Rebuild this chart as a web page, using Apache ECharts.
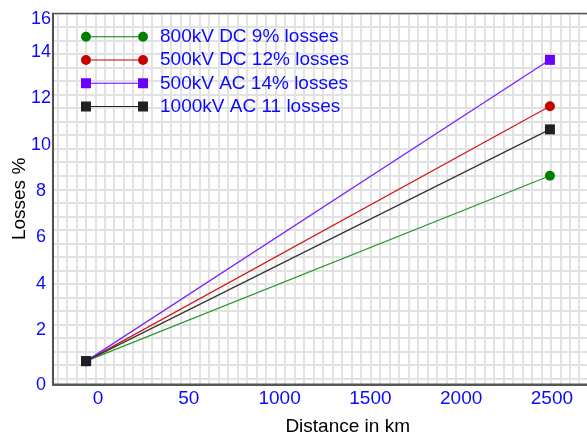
<!DOCTYPE html>
<html>
<head>
<meta charset="utf-8">
<script src="https://cdn.jsdelivr.net/npm/echarts@6/dist/echarts.min.js"></script>
<style>
  html, body { margin: 0; padding: 0; background: #ffffff; }
  #chart { width: 587px; height: 433px; }
</style>
</head>
<body>
<div id="chart"></div>
<script>
// Transmission losses versus distance for four line technologies
const distanceKm = [0, 2500];
const dc800Losses = [1, 9];
const dc500Losses = [1, 12];
const ac500Losses = [1, 14];
const ac1000Losses = [1, 11];

const seriesNames = [
  '800kV DC 9% losses',
  '500kV DC 12% losses',
  '500kV AC 14% losses',
  '1000kV AC 11 losses'
];

const xTickValues = [0, 500, 1000, 1500, 2000, 2500];
const xTickLabels = ['0', '50', '1000', '1500', '2000', '2500'];

const BLUE = '#0a0aff';
const GRID_LINE = '#e2e2e2';

function pairs(xs, ys) {
  return xs.map((x, i) => [x, ys[i]]);
}

// legend icons: a thin line with a marker at each end
const circleIcon = 'path://M0,5a5,5 0 1,0 10,0a5,5 0 1,0 -10,0Z' +
  'M57,5a5,5 0 1,0 10,0a5,5 0 1,0 -10,0Z' +
  'M10,4.5L57,4.5L57,5.5L10,5.5Z';
const squareIcon = 'path://M0,0L10,0L10,10L0,10Z' +
  'M57,0L67,0L67,10L57,10Z' +
  'M10,4.5L57,4.5L57,5.5L10,5.5Z';

const chart = echarts.init(document.getElementById('chart'), null, { renderer: 'canvas' });

// plotting frame (it runs past the right edge of the page)
const plot = { left: 52.7, top: 13.5, width: 590, height: 370.8 };

chart.setOption({
  animation: false,
  backgroundColor: '#ffffff',
  textStyle: { fontFamily: 'Liberation Sans, Arial, sans-serif' },
  grid: [
    { left: plot.left, top: plot.top, width: plot.width, height: plot.height,
      outerBoundsMode: 'none', containLabel: false,
      show: true, borderColor: '#555555', borderWidth: 1.5, backgroundColor: 'transparent', z: 3 },
    // vertical background rulings
    { left: 57.3, top: plot.top, width: 60 * 9.49, height: plot.height,
      outerBoundsMode: 'none', containLabel: false, z: 0 },
    // horizontal background rulings
    { left: plot.left, top: plot.top, width: plot.width, height: 27 * 13.52,
      outerBoundsMode: 'none', containLabel: false, z: 0 }
  ],
  legend: {
    orient: 'vertical',
    left: 81,
    top: 27.2,
    padding: 0,
    itemWidth: 67,
    itemHeight: 10,
    itemGap: 4.3,
    textStyle: { color: BLUE, fontSize: 19, padding: [0, 0, 0, 7] },
    data: [
      { name: seriesNames[0], icon: circleIcon },
      { name: seriesNames[1], icon: circleIcon },
      { name: seriesNames[2], icon: squareIcon },
      { name: seriesNames[3], icon: squareIcon }
    ]
  },
  xAxis: [
    {
      gridIndex: 0, type: 'value', position: 'bottom', min: -180, max: 3000,
      axisLine: { show: true, onZero: false, lineStyle: { color: '#222222', width: 1.5 } },
      axisTick: { show: false }, axisLabel: { show: false }, splitLine: { show: false },
      name: 'Distance in km', nameLocation: 'middle', nameGap: 33, nameMoveOverlap: false,
      nameTextStyle: { color: '#000000', fontSize: 19 }
    },
    {
      gridIndex: 0, type: 'value', position: 'bottom', offset: 0, min: -250, max: 3000,
      axisLine: { show: false, onZero: false }, axisTick: { show: false }, splitLine: { show: false },
      axisLabel: {
        show: true, customValues: xTickValues, color: BLUE, fontSize: 19, margin: 5,
        formatter: (v) => xTickLabels[xTickValues.indexOf(v)]
      }
    },
    {
      gridIndex: 1, type: 'value', min: 0, max: 60, interval: 1,
      axisLine: { show: false }, axisTick: { show: false }, axisLabel: { show: false },
      splitLine: { show: true, lineStyle: { color: GRID_LINE, width: 2 } }
    },
    {
      gridIndex: 2, type: 'value', min: 0, max: 1, show: false,
      splitLine: { show: false }
    }
  ],
  yAxis: [
    {
      gridIndex: 0, type: 'value', min: 0, max: 16, interval: 2,
      axisLine: { show: true, onZero: false, lineStyle: { color: '#111111', width: 1.5 } },
      axisTick: { show: false }, splitLine: { show: false },
      axisLabel: {
        show: true, color: BLUE, fontSize: 18, align: 'center', margin: 11.7,
        formatter: (v) => v === 0 ? '{lo|0}' : (v === 16 ? '{hi|16}' : '{mid|' + v + '}'),
        rich: {
          lo: { color: BLUE, fontSize: 18, padding: [2, 0, 0, 0] },
          hi: { color: BLUE, fontSize: 18, padding: [12, 0, 0, 0] },
          mid: { color: BLUE, fontSize: 18, padding: [0, 0, 16, 0] }
        }
      },
      name: 'Losses %', nameLocation: 'middle', nameGap: 23, nameRotate: 90, nameMoveOverlap: false,
      nameTextStyle: { color: '#000000', fontSize: 19 }
    },
    {
      gridIndex: 1, type: 'value', min: 0, max: 1, show: false,
      splitLine: { show: false }
    },
    {
      gridIndex: 2, type: 'value', inverse: true, min: 0, max: 27, interval: 1,
      axisLine: { show: false }, axisTick: { show: false }, axisLabel: { show: false },
      splitLine: { show: true, lineStyle: { color: GRID_LINE, width: 2 } }
    }
  ],
  series: [
    {
      name: seriesNames[0], type: 'line', xAxisIndex: 0, yAxisIndex: 0,
      data: pairs(distanceKm, dc800Losses),
      symbol: 'circle', symbolSize: 10,
      itemStyle: { color: '#008000' },
      lineStyle: { color: '#2a962a', width: 1.2 }, z: 4
    },
    {
      name: seriesNames[1], type: 'line', xAxisIndex: 0, yAxisIndex: 0,
      data: pairs(distanceKm, dc500Losses),
      symbol: 'circle', symbolSize: 10,
      itemStyle: { color: '#c80000' },
      lineStyle: { color: '#d01818', width: 1.2 }, z: 4
    },
    {
      name: seriesNames[2], type: 'line', xAxisIndex: 0, yAxisIndex: 0,
      data: pairs(distanceKm, ac500Losses),
      symbol: 'rect', symbolSize: 10,
      itemStyle: { color: '#6a00ff' },
      lineStyle: { color: '#7a20ff', width: 1.2 }, z: 4
    },
    {
      name: seriesNames[3], type: 'line', xAxisIndex: 0, yAxisIndex: 0,
      data: pairs(distanceKm, ac1000Losses),
      symbol: 'rect', symbolSize: 10,
      itemStyle: { color: '#202020' },
      lineStyle: { color: '#333333', width: 1.2 }, z: 4
    }
  ]
});
</script>
</body>
</html>
